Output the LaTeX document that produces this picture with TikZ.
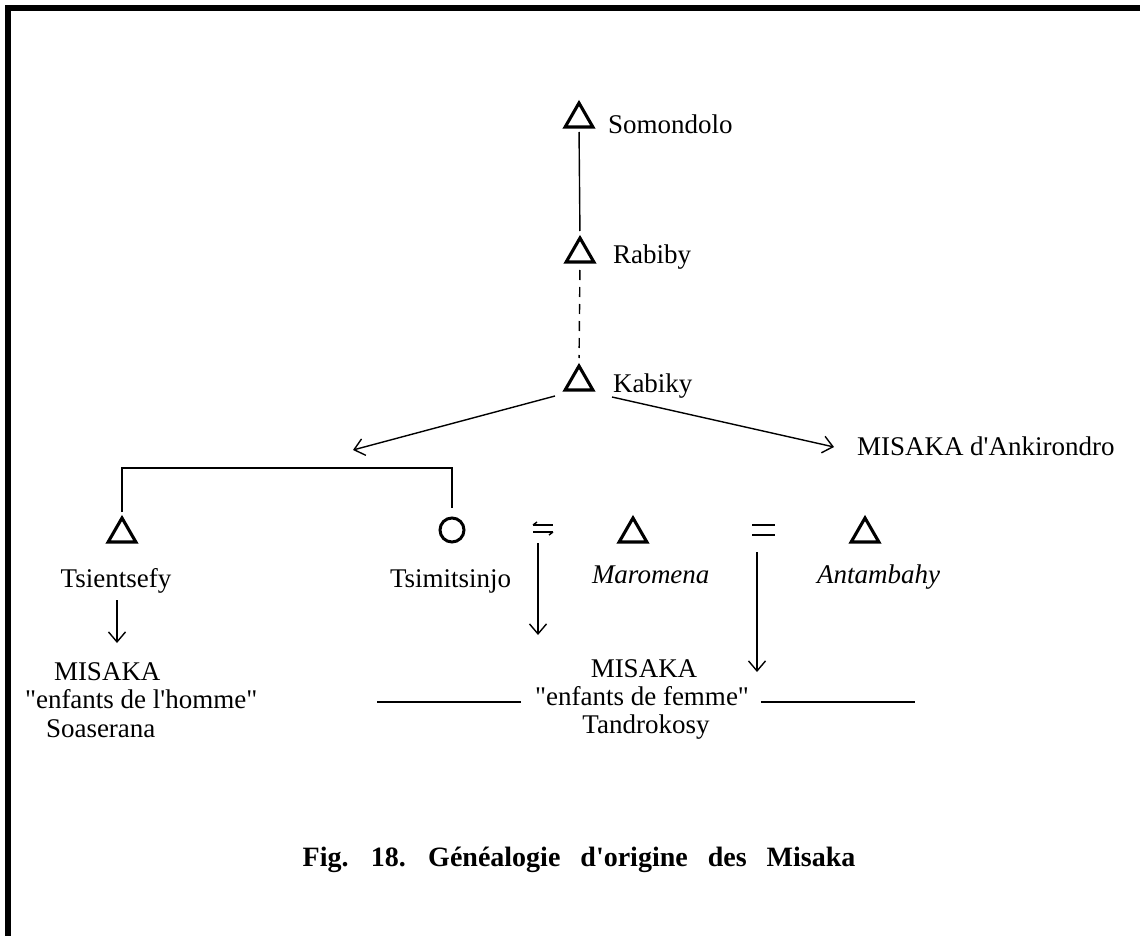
\documentclass[tikz,border=0pt]{standalone}
\usepackage{fontspec}
\setmainfont{Liberation Serif}
\usetikzlibrary{shapes.geometric,arrows.meta}
\newcommand{\sq}{\textquotesingle}
\newcommand{\dq}{\textquotedbl}
\begin{document}
\begin{tikzpicture}[x=1pt,y=-1pt,
  tri/.style={regular polygon,regular polygon sides=3,draw,line width=3.1pt,minimum size=32pt,inner sep=0pt,outer sep=0pt},
  fem/.style={circle,draw,line width=3pt,minimum size=24pt,inner sep=0pt,outer sep=0pt},
  lbl/.style={font=\fontsize{27}{28}\selectfont,inner sep=0pt,outer sep=0pt},
  ilbl/.style={lbl,font=\fontsize{27}{28}\selectfont\itshape},
  ln/.style={line width=1.4pt},
  arr/.style={ln,-{Straight Barb[length=10pt,width=17pt]}},
  captext/.style={inner sep=0pt,font=\fontsize{28}{30}\selectfont\bfseries}
]
\useasboundingbox (0,0) rectangle (1140,936);
\fill[white] (0,0) rectangle (1140,936);
% border
\draw[line width=6pt] (8,940) -- (8,8) -- (1145,8);

% persons
\node[tri] (som) at (579,119) {};
\node[tri] (rab) at (580,254) {};
\node[tri] (kab) at (579,382) {};
\node[tri] (tsi) at (122,534) {};
\node[fem] (cir) at (452,530) {};
\node[tri] (mar) at (633,534) {};
\node[tri] (ant) at (865,534) {};

% labels
\node[lbl,anchor=base west] (soml) at (608,134) {Somondolo};
\node[lbl,anchor=base west] (rabl) at (613,263) {Rabiby};
\node[lbl,anchor=base west] (kabl) at (613,392) {Kabiky};
\node[lbl,anchor=base west] (ank) at (857,455) {MISAKA d\sq Ankirondro};
\node[lbl,anchor=base] (tsil) at (116,587) {Tsientsefy};
\node[lbl,anchor=base west] (ciml) at (390,587) {Tsimitsinjo};
\node[ilbl,anchor=base west] (marl) at (592,583) {Maromena};
\node[ilbl,anchor=base west] (antl) at (817,583) {Antambahy};

% left block
\node[lbl,anchor=base west] (lm1) at (54,680) {MISAKA};
\node[lbl,anchor=base west] (lm2) at (25,708) {\dq enfants de l\sq homme\dq};
\node[lbl,anchor=base west] (lm3) at (46,737) {Soaserana};

% right block
\node[lbl,anchor=base] (rm1) at (644,677) {MISAKA};
\node[lbl,anchor=base] (rm2) at (642,705) {\dq enfants de femme\dq};
\node[lbl,anchor=base] (rm3) at (646,733) {Tandrokosy};

% caption
\node[captext,anchor=base] (capt) at (579,866) {\spaceskip=20pt\relax Fig. 18. Généalogie d\sq origine des Misaka};

% lineage
\draw[ln,shorten <=5pt,shorten >=7pt] (som.south) -- (rab.north);
\draw[ln,dash pattern=on 10pt off 7pt,shorten <=8pt,shorten >=8pt] (rab.south) -- (kab.north);

\coordinate (lt) at (353,450);
\draw[arr] ([shift={(-24,14)}]kab.center) -- (lt);
\draw[arr] ([shift={(33,15)}]kab.center) -- ([shift={(-23,-8)}]ank.base west);

% sibling bracket
\coordinate (br) at (122,468);
\draw[ln] ([shift={(0,-6)}]tsi.north) -- (tsi.north |- br) -- (cir.north |- br) -- ([shift={(0,-10)}]cir.north);

% marriage signs
\coordinate (eq1) at (543,528);
\draw[ln] ([shift={(-10,-3)}]eq1) -- ++(20,0);
\draw[ln] ([shift={(-10,-3)}]eq1) -- ++(4,-3);
\draw[ln] ([shift={(-10,4)}]eq1) -- ++(20,0);
\draw[ln] ([shift={(10,4)}]eq1) -- ++(-4,3);
\coordinate (eq2) at (763,530);
\draw[ln] ([shift={(-11,-5)}]eq2) -- ++(23,0);
\draw[ln] ([shift={(-11,5)}]eq2) -- ++(23,0);

% descent arrows
\draw[arr] ([shift={(1,13)}]tsil.base) -- ([shift={(1,56)}]tsil.base);
\draw[arr] ([shift={(-5,15)}]eq1) -- ([shift={(-5,107)}]eq1);
\draw[arr] ([shift={(-6,22)}]eq2) -- ([shift={(-6,142)}]eq2);

% lines beside right block
\draw[ln] ([shift={(-14,-3)}]rm2.base west) -- ++(-144,0);
\draw[ln] ([shift={(12,-3)}]rm2.base east) -- ++(154,0);
\end{tikzpicture}
\end{document}
